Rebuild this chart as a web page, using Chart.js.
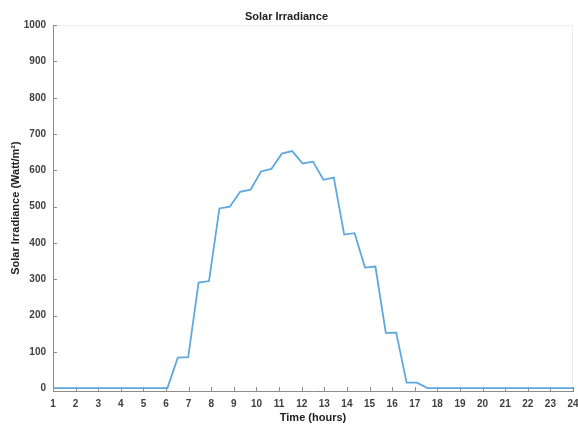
<!DOCTYPE html>
<html>
<head>
<meta charset="utf-8">
<script src="https://cdn.jsdelivr.net/npm/chart.js@4/dist/chart.umd.min.js"></script>
<style>
  html, body { margin: 0; padding: 0; background: #fff; }
  #wrap { width: 578px; height: 429px; }
</style>
</head>
<body>
<div id="wrap"><canvas id="line-chart"></canvas></div>
<script>
// Time of day (hours), 51 samples from 1 to 24
const hours = [1, 1.46, 1.92, 2.38, 2.84, 3.3, 3.76, 4.22, 4.68, 5.14, 5.6, 6.06, 6.52, 6.98, 7.44, 7.9,
    8.36, 8.82, 9.28, 9.74, 10.2, 10.66, 11.12, 11.58, 12.04, 12.5, 12.96, 13.42, 13.88, 14.34, 14.8,
    15.26, 15.72, 16.18, 16.64, 17.1, 17.56, 18.02, 18.48, 18.94, 19.4, 19.86, 20.32, 20.78, 21.24,
    21.7, 22.16, 22.62, 23.08, 23.54, 24];
// Solar irradiance (W/m^2)
const irradiance = [0, 0, 0, 0, 0, 0, 0, 0, 0, 0, 0, 0, 84, 85, 291, 295,
    495, 500, 541, 547, 597, 604, 646, 653, 619, 624, 574, 580, 423, 427, 332,
    335, 152, 153, 15, 15, 0, 0, 0, 0, 0, 0, 0, 0, 0,
    0, 0, 0, 0, 0, 0];
const yTicks = [0, 100, 200, 300, 400, 500, 600, 700, 800, 900, 1000];

const axisColor = "#8c8c8c";
const textColor = "#404040";
Chart.defaults.font.family = "'Liberation Sans', Arial, sans-serif";

// MATLAB style: tick marks point into the plot, light box on top/right
const inwardTicks = {
    id: "inwardTicks",
    beforeDatasetsDraw(chart) {
        const ctx = chart.ctx;
        const area = chart.chartArea;
        const x = chart.scales.x, y = chart.scales.y;
        ctx.save();
        ctx.strokeStyle = "#ececec";
        ctx.lineWidth = 1;
        ctx.beginPath();
        ctx.moveTo(area.left, area.top + 0.5);
        ctx.lineTo(area.right - 0.5, area.top + 0.5);
        ctx.lineTo(area.right - 0.5, area.bottom);
        ctx.stroke();
        ctx.strokeStyle = axisColor;
        ctx.beginPath();
        x.ticks.forEach(function (t, i) {
            const px = Math.round(x.getPixelForTick(i)) + 0.5;
            ctx.moveTo(px, area.bottom);
            ctx.lineTo(px, area.bottom - 4);
        });
        y.ticks.forEach(function (t, i) {
            const py = Math.round(y.getPixelForTick(i)) + 0.5;
            ctx.moveTo(area.left, py);
            ctx.lineTo(area.left + 4, py);
        });
        ctx.stroke();
        ctx.restore();
    }
};

const ctx = document.getElementById("line-chart").getContext("2d");
const myChart = new Chart(ctx, {
    type: "line",
    data: {
        labels: hours,
        datasets: [{
            data: hours.map(function (h, i) { return { x: h, y: irradiance[i] }; }),
            borderColor: "#5ea8de",
            borderWidth: 1.8,
            pointRadius: 0,
            tension: 0,
            fill: false
        }]
    },
    options: {
        responsive: true,
        maintainAspectRatio: false,
        animation: false,
        layout: { padding: { left: 0, right: 5, top: 0, bottom: 0 } },
        plugins: {
            legend: { display: false },
            tooltip: { enabled: false },
            title: {
                display: true,
                text: "Solar Irradiance",
                color: "#222",
                font: { size: 11, weight: "bold" },
                padding: { top: 10, bottom: 2 }
            }
        },
        scales: {
            x: {
                type: "linear",
                min: 1,
                max: 24,
                grid: { display: false, drawTicks: false },
                border: { display: true, color: axisColor, width: 1 },
                ticks: {
                    stepSize: 1,
                    autoSkip: false,
                    maxRotation: 0,
                    padding: 7,
                    color: textColor,
                    font: { size: 10, weight: "bold" }
                },
                title: {
                    display: true,
                    text: "Time (hours)",
                    color: "#222",
                    font: { size: 11, weight: "bold" },
                    padding: { top: 0, bottom: 4 }
                },
                afterFit: function (scale) {
                    scale.height = 38;
                    scale.paddingLeft = 0;
                    scale.paddingRight = 0;
                }
            },
            y: {
                min: -8,
                max: 1000,
                grid: { display: false, drawTicks: false },
                border: { display: true, color: axisColor, width: 1 },
                afterBuildTicks: function (scale) {
                    scale.ticks = yTicks.map(function (v) { return { value: v }; });
                },
                ticks: {
                    padding: 7,
                    color: textColor,
                    font: { size: 10, weight: "bold" },
                    callback: function (v) { return String(v); }
                },
                title: {
                    display: true,
                    text: "Solar Irradiance (Watt/m\u00B2)",
                    color: "#222",
                    font: { size: 11, weight: "bold" },
                    padding: { top: 9, bottom: 0 }
                },
                afterFit: function (scale) {
                    scale.width = 53;
                }
            }
        }
    },
    plugins: [inwardTicks]
});
</script>
</body>
</html>
